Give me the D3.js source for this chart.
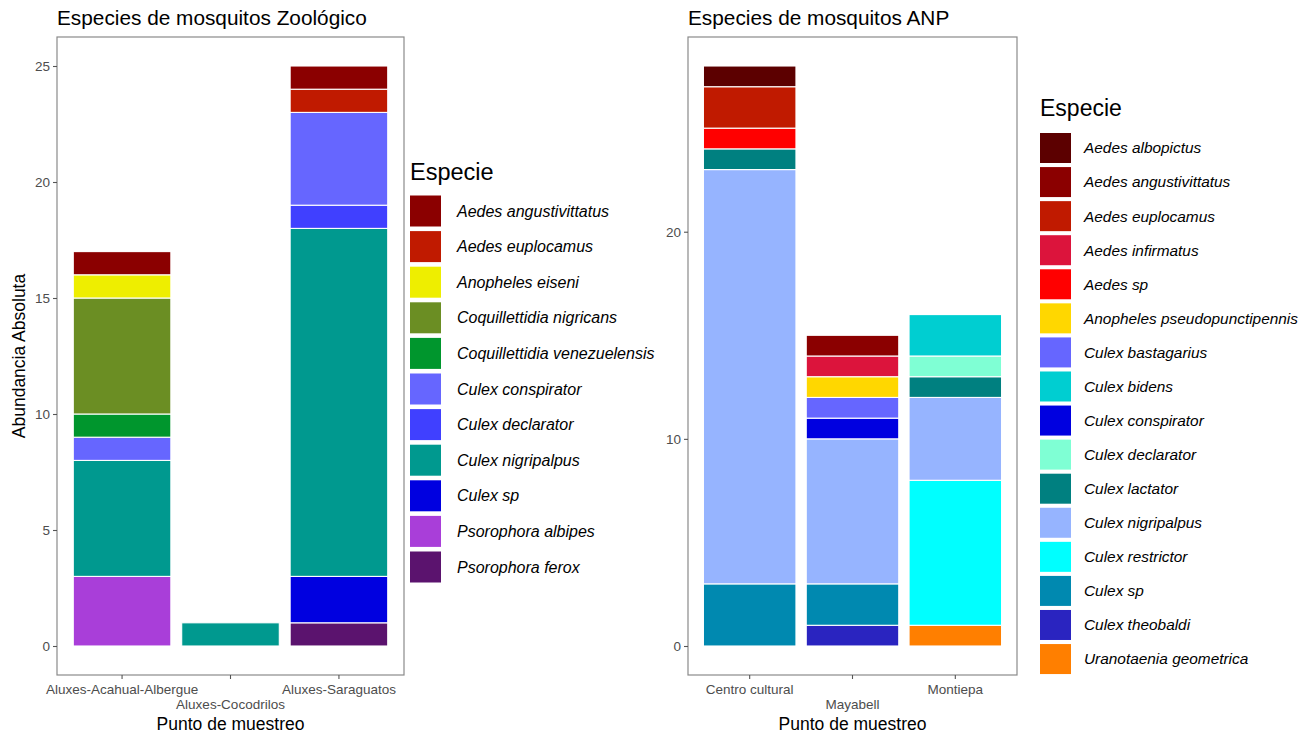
<!DOCTYPE html>
<html>
<head>
<meta charset="utf-8">
<script src="https://cdn.jsdelivr.net/npm/d3@7/dist/d3.min.js"></script>
<style>
  html, body { margin: 0; padding: 0; background: #fff; }
  svg { display: block; font-family: "Liberation Sans", Arial, sans-serif; }
</style>
</head>
<body>
<svg id="chart" width="1314" height="734"></svg>
<script>
// ---------- Data: Zoológico ----------
const zooTitle = "Especies de mosquitos Zoológico";
const zooSites = ["Aluxes-Acahual-Albergue", "Aluxes-Cocodrilos", "Aluxes-Saraguatos"];
const zooSpecies = [
  "Aedes angustivittatus", "Aedes euplocamus", "Anopheles eiseni",
  "Coquillettidia nigricans", "Coquillettidia venezuelensis", "Culex conspirator",
  "Culex declarator", "Culex nigripalpus", "Culex sp", "Psorophora albipes", "Psorophora ferox"
];
const zooColors = [
  "#8b0000", "#c01a00", "#eeee00", "#6b8e23", "#00962d", "#6666ff",
  "#4040ff", "#00998f", "#0000e0", "#a93ed9", "#5b136e"
];
// counts per species (rows) for each site (columns)
const zooCounts = [
  [1, 0, 1],
  [0, 0, 1],
  [1, 0, 0],
  [5, 0, 0],
  [1, 0, 0],
  [1, 0, 4],
  [0, 0, 1],
  [5, 1, 15],
  [0, 0, 2],
  [3, 0, 0],
  [0, 0, 1]
];
const zooTicks = [0, 5, 10, 15, 20, 25];

// ---------- Data: ANP ----------
const anpTitle = "Especies de mosquitos ANP";
const anpSites = ["Centro cultural", "Mayabell", "Montiepa"];
const anpSpecies = [
  "Aedes albopictus", "Aedes angustivittatus", "Aedes euplocamus", "Aedes infirmatus",
  "Aedes sp", "Anopheles pseudopunctipennis", "Culex bastagarius", "Culex bidens",
  "Culex conspirator", "Culex declarator", "Culex lactator", "Culex nigripalpus",
  "Culex restrictor", "Culex sp", "Culex theobaldi", "Uranotaenia geometrica"
];
const anpColors = [
  "#5c0000", "#8b0000", "#c01a00", "#dc143c", "#ff0000", "#ffd700",
  "#6666ff", "#00ced1", "#0000e0", "#7fffd4", "#008080", "#96b4ff",
  "#00ffff", "#0089b0", "#2a24c0", "#ff7f00"
];
const anpCounts = [
  [1, 0, 0],
  [0, 1, 0],
  [2, 0, 0],
  [0, 1, 0],
  [1, 0, 0],
  [0, 1, 0],
  [0, 1, 0],
  [0, 0, 2],
  [0, 1, 0],
  [0, 0, 1],
  [1, 0, 1],
  [20, 7, 4],
  [0, 0, 7],
  [3, 2, 0],
  [0, 1, 0],
  [0, 0, 1]
];
const anpTicks = [0, 10, 20];

const xAxisTitle = "Punto de muestreo";
const yAxisTitle = "Abundancia Absoluta";
const legendTitle = "Especie";

const svg = d3.select("#chart");

function drawPanel(cfg) {
  const { sites, species, colors, counts, ticks, title, box, yDomain, legend } = cfg;
  const g = svg.append("g");

  const x = d3.scaleBand().domain(sites).range([box.left, box.right])
    .paddingInner(0.1).paddingOuter(0.15);
  const y = d3.scaleLinear().domain(yDomain).range([box.bottom, box.top]);
  const color = d3.scaleOrdinal().domain(species).range(colors);

  const table = sites.map((s, j) => {
    const row = { site: s };
    species.forEach((sp, i) => { row[sp] = counts[i][j]; });
    return row;
  });
  // first species on top -> stack reversed keys from bottom
  const stack = d3.stack().keys(species.slice().reverse())(table);

  stack.forEach(layer => {
    g.append("g").selectAll("rect").data(layer.filter(d => d[1] - d[0] > 0))
      .join("rect")
      .attr("x", d => x(d.data.site))
      .attr("width", x.bandwidth())
      .attr("y", d => y(d[1]))
      .attr("height", d => y(d[0]) - y(d[1]))
      .attr("fill", color(layer.key))
      .attr("stroke", "#ffffff")
      .attr("stroke-width", 1.1);
  });

  g.append("rect")
    .attr("x", box.left).attr("y", box.top)
    .attr("width", box.right - box.left).attr("height", box.bottom - box.top)
    .attr("fill", "none").attr("stroke", "#8a8a8a").attr("stroke-width", 1.2);

  const ya = g.append("g").attr("transform", `translate(${box.left},0)`)
    .call(d3.axisLeft(y).tickValues(ticks).tickSize(4).tickPadding(3).tickFormat(d3.format("d")));
  ya.select(".domain").remove();
  ya.selectAll(".tick line").attr("stroke", "#555").attr("stroke-width", 1.1);
  ya.selectAll(".tick text").attr("fill", "#4d4d4d").style("font-size", "13.5px")
    .style("font-family", "'Liberation Sans', Arial, sans-serif");

  const xa = g.append("g").attr("transform", `translate(0,${box.bottom})`)
    .call(d3.axisBottom(x).tickSize(4).tickPadding(3));
  xa.select(".domain").remove();
  xa.selectAll(".tick line").attr("stroke", "#555").attr("stroke-width", 1.1);
  xa.selectAll(".tick text").attr("fill", "#4d4d4d").style("font-size", "13.5px")
    .style("font-family", "'Liberation Sans', Arial, sans-serif")
    .attr("dy", null)
    .attr("y", (d, i) => i % 2 === 0 ? 19 : 34);

  const cx = (box.left + box.right) / 2;
  g.append("text").attr("x", cx).attr("y", 730).attr("text-anchor", "middle")
    .style("font-size", "17.5px").attr("fill", "#000").text(xAxisTitle);

  g.append("text").attr("x", box.left).attr("y", 25)
    .style("font-size", "20.8px").attr("fill", "#000").text(title);

  if (cfg.showYTitle) {
    const cy = (box.top + box.bottom) / 2;
    g.append("text").attr("transform", `translate(25,${cy}) rotate(-90)`)
      .attr("text-anchor", "middle").style("font-size", "17.5px").attr("fill", "#000")
      .text(yAxisTitle);
  }

  const lg = g.append("g");
  lg.append("text").attr("x", legend.x).attr("y", legend.titleY)
    .style("font-size", legend.titleSize + "px").attr("fill", "#000").text(legendTitle);
  const items = lg.selectAll("g.item").data(species).join("g").attr("class", "item")
    .attr("transform", (d, i) => `translate(${legend.x},${legend.y0 + i * legend.step})`);
  items.append("rect")
    .attr("x", 0).attr("y", -legend.key / 2)
    .attr("width", legend.keyW).attr("height", legend.key)
    .attr("fill", d => color(d));
  items.append("text")
    .attr("x", legend.textX).attr("y", 0).attr("dy", "0.35em")
    .style("font-size", legend.textSize + "px").style("font-style", "italic")
    .attr("fill", "#000").text(d => d);
}

drawPanel({
  sites: zooSites, species: zooSpecies, colors: zooColors, counts: zooCounts,
  ticks: zooTicks, title: zooTitle,
  box: { left: 57, right: 404, top: 37, bottom: 675 },
  yDomain: [-1.25, 26.25],
  showYTitle: true,
  legend: { x: 410, titleY: 180, titleSize: 23.5, y0: 211, step: 35.6, key: 31, keyW: 31, textX: 47, textSize: 16 }
});

drawPanel({
  sites: anpSites, species: anpSpecies, colors: anpColors, counts: anpCounts,
  ticks: anpTicks, title: anpTitle,
  box: { left: 688, right: 1017, top: 37, bottom: 675 },
  yDomain: [-1.4, 29.4],
  showYTitle: false,
  legend: { x: 1040, titleY: 116, titleSize: 23, y0: 148, step: 34.07, key: 30, keyW: 31, textX: 44, textSize: 15.4 }
});
</script>
</body>
</html>
